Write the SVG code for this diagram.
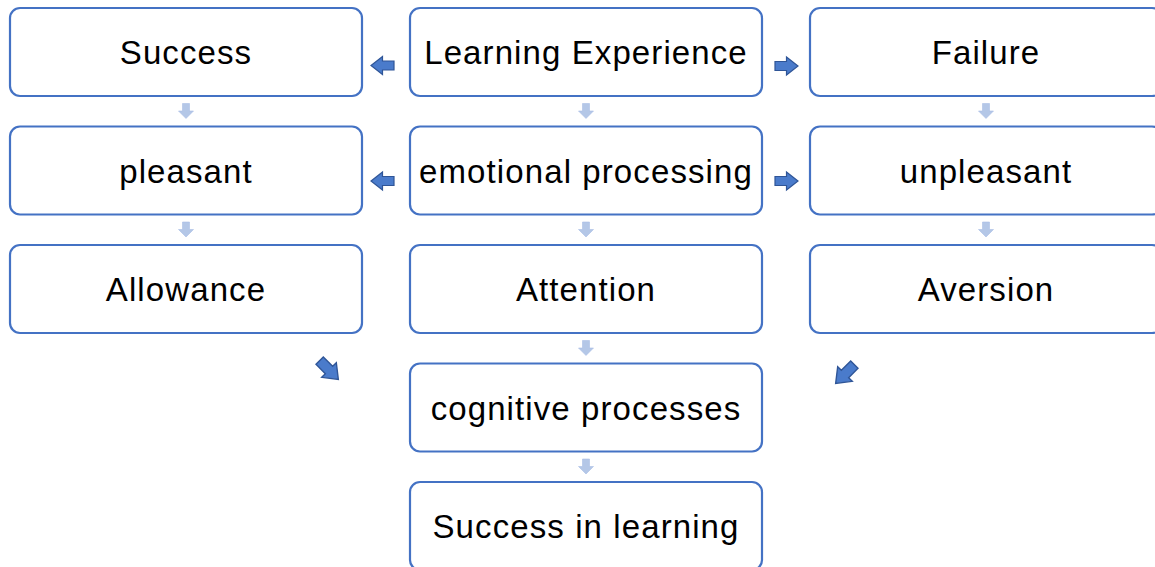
<svg xmlns="http://www.w3.org/2000/svg" width="1155" height="567" viewBox="0 0 1155 567">
  <style>
    .box { fill: #ffffff; stroke: #4472C4; stroke-width: 2.2; }
    .lbl { font-family: "Liberation Sans", Arial, sans-serif; font-size: 33px; letter-spacing: 1.1px; fill: #000000; text-anchor: middle; }
    .down { fill: #B4C7E7; stroke: #A9BEE6; stroke-width: 0.6; }
    .side { fill: #4A7BCB; stroke: #2F5597; stroke-width: 1.2; stroke-linejoin: miter; }
  </style>
  <defs>
    <!-- block arrow pointing right, centred on the origin -->
    <path id="blk" d="M -11.5,-4.5 H 0 V -9 L 11.5,0 L 0,9 V 4.5 H -11.5 Z"/>
    <!-- small block arrow pointing down -->
    <path id="dn" d="M -3.5,-7.5 H 3.5 V 0 H 7.5 L 0,7.5 L -7.5,0 H -3.5 Z"/>
  </defs>
  <rect width="1155" height="567" fill="#ffffff"/>

  <g id="connectors">
    <!-- vertical flow arrows -->
    <use href="#dn" class="down" x="186" y="111"/>
    <use href="#dn" class="down" x="186" y="229.5"/>
    <use href="#dn" class="down" x="586" y="111"/>
    <use href="#dn" class="down" x="586" y="229.5"/>
    <use href="#dn" class="down" x="586" y="348"/>
    <use href="#dn" class="down" x="586" y="466.5"/>
    <use href="#dn" class="down" x="986" y="111"/>
    <use href="#dn" class="down" x="986" y="229.5"/>
    <!-- branching arrows -->
    <use href="#blk" class="side" transform="translate(382.5,65.5) rotate(180)"/>
    <use href="#blk" class="side" transform="translate(382.5,181) rotate(180)"/>
    <use href="#blk" class="side" transform="translate(786.5,66)"/>
    <use href="#blk" class="side" transform="translate(786.5,181)"/>
    <use href="#blk" class="side" transform="translate(329,370) rotate(45) scale(1.15)"/>
    <use href="#blk" class="side" transform="translate(845,374) rotate(135) scale(1.15)"/>
  </g>

  <g id="n-success">
    <rect class="box" x="10" y="8" width="352" height="88" rx="10"/>
    <text class="lbl" x="186" y="64">Success</text>
  </g>
  <g id="n-learning-experience">
    <rect class="box" x="410" y="8" width="352" height="88" rx="10"/>
    <text class="lbl" x="586" y="64">Learning Experience</text>
  </g>
  <g id="n-failure">
    <rect class="box" x="810" y="8" width="352" height="88" rx="10"/>
    <text class="lbl" x="986" y="64">Failure</text>
  </g>

  <g id="n-pleasant">
    <rect class="box" x="10" y="126.5" width="352" height="88" rx="10"/>
    <text class="lbl" x="186" y="182.5">pleasant</text>
  </g>
  <g id="n-emotional-processing">
    <rect class="box" x="410" y="126.5" width="352" height="88" rx="10"/>
    <text class="lbl" x="586" y="182.5">emotional processing</text>
  </g>
  <g id="n-unpleasant">
    <rect class="box" x="810" y="126.5" width="352" height="88" rx="10"/>
    <text class="lbl" x="986" y="182.5">unpleasant</text>
  </g>

  <g id="n-allowance">
    <rect class="box" x="10" y="245" width="352" height="88" rx="10"/>
    <text class="lbl" x="186" y="301">Allowance</text>
  </g>
  <g id="n-attention">
    <rect class="box" x="410" y="245" width="352" height="88" rx="10"/>
    <text class="lbl" x="586" y="301">Attention</text>
  </g>
  <g id="n-aversion">
    <rect class="box" x="810" y="245" width="352" height="88" rx="10"/>
    <text class="lbl" x="986" y="301">Aversion</text>
  </g>

  <g id="n-cognitive-processes">
    <rect class="box" x="410" y="363.5" width="352" height="88" rx="10"/>
    <text class="lbl" x="586" y="419.5">cognitive processes</text>
  </g>
  <g id="n-success-in-learning">
    <rect class="box" x="410" y="482" width="352" height="88" rx="10"/>
    <text class="lbl" x="586" y="538">Success in learning</text>
  </g>
</svg>
